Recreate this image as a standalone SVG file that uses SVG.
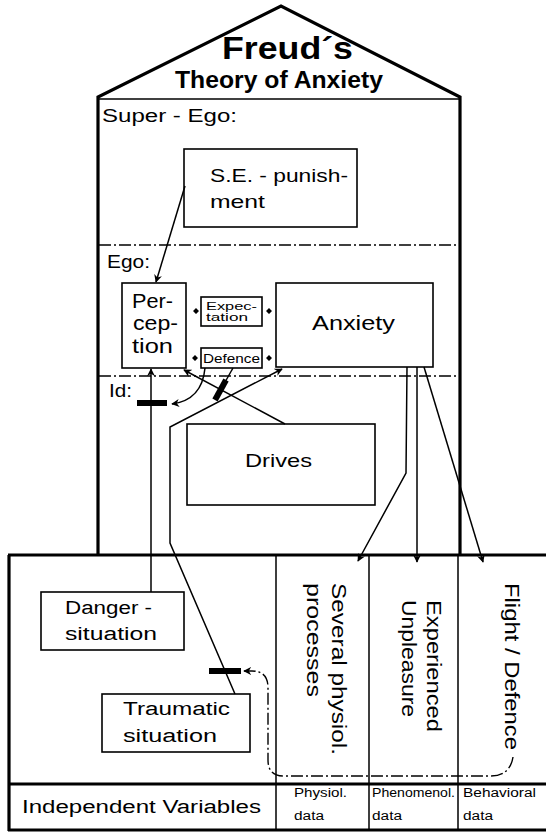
<svg xmlns="http://www.w3.org/2000/svg" width="546" height="836" viewBox="0 0 546 836">
<defs>
<style>
text{font-family:"Liberation Sans",Arial,sans-serif;fill:#000}
.t{font-size:19px}
.s{font-size:12px}
.box{fill:#fff;stroke:#000;stroke-width:1.6}
.thick{fill:none;stroke:#000;stroke-width:3.2}
.thin{fill:none;stroke:#000;stroke-width:1.5}
.dd{fill:none;stroke:#000;stroke-width:1.4;stroke-dasharray:12 3 2 3}
.con{fill:none;stroke:#000;stroke-width:1.5}
.bar{fill:#000}
</style>
<marker id="ah" viewBox="0 0 10 10" refX="9" refY="5" markerWidth="8" markerHeight="8" markerUnits="userSpaceOnUse" orient="auto">
<path d="M0,0 L10,5 L0,10 L3,5 Z" fill="#000"/>
</marker>
</defs>
<rect width="546" height="836" fill="#fff"/>

<g id="house">
<path class="thick" d="M98,555 L98,97 L281,6 L460,97 L460,555"/>
<line class="thin" x1="98" y1="99" x2="460" y2="99" stroke-width="2"/>
<line class="dd" x1="99" y1="245" x2="459" y2="245"/>
<line class="dd" x1="99" y1="376" x2="459" y2="376"/>
<text x="222" y="59" font-size="31" font-weight="bold" textLength="131" lengthAdjust="spacingAndGlyphs">Freud´s</text>
<text x="175" y="88" font-size="24" font-weight="bold" textLength="208" lengthAdjust="spacingAndGlyphs">Theory of Anxiety</text>
<text x="102" y="122" font-size="18" textLength="135" lengthAdjust="spacingAndGlyphs">Super - Ego:</text>
<text x="107" y="268" font-size="18" textLength="43" lengthAdjust="spacingAndGlyphs">Ego:</text>
<text x="109" y="397" font-size="18" textLength="23" lengthAdjust="spacingAndGlyphs">Id:</text>
</g>

<g id="lower">
<path class="thick" d="M8,555 L546,555 M9,555 L9,831 M8,784 L546,784 M8,830 L546,830"/>
<path class="thin" d="M276,555 L276,830 M369,555 L369,830 M458,555 L458,830"/>
<text x="22" y="813" font-size="18" textLength="239" lengthAdjust="spacingAndGlyphs">Independent Variables</text>
<text class="s" x="294" y="797" textLength="53" lengthAdjust="spacingAndGlyphs">Physiol.</text>
<text class="s" x="294" y="820" textLength="30" lengthAdjust="spacingAndGlyphs">data</text>
<text class="s" x="372" y="797" textLength="83" lengthAdjust="spacingAndGlyphs">Phenomenol.</text>
<text class="s" x="372" y="820" textLength="30" lengthAdjust="spacingAndGlyphs">data</text>
<text class="s" x="463" y="797" textLength="73" lengthAdjust="spacingAndGlyphs">Behavioral</text>
<text class="s" x="463" y="820" textLength="30" lengthAdjust="spacingAndGlyphs">data</text>
</g>

<g id="se-punishment">
<rect class="box" x="184" y="149" width="173" height="78"/>
<text class="t" x="210" y="182" textLength="138" lengthAdjust="spacingAndGlyphs">S.E. - punish-</text>
<text class="t" x="210" y="208" textLength="55" lengthAdjust="spacingAndGlyphs">ment</text>
</g>

<g id="perception">
<rect class="box" x="122" y="283" width="64" height="85"/>
<text x="132" y="308" font-size="20" textLength="41" lengthAdjust="spacingAndGlyphs">Per-</text>
<text x="133" y="330" font-size="20" textLength="45" lengthAdjust="spacingAndGlyphs">cep-</text>
<text x="132" y="353" font-size="20" textLength="41" lengthAdjust="spacingAndGlyphs">tion</text>
</g>

<g id="expectation">
<rect class="box" x="201" y="297" width="61" height="29"/>
<text x="206" y="310" font-size="11.5" textLength="51" lengthAdjust="spacingAndGlyphs">Expec-</text>
<text x="206" y="321" font-size="11.5" textLength="42" lengthAdjust="spacingAndGlyphs">tation</text>
</g>

<g id="defence">
<rect class="box" x="201" y="348" width="61" height="20"/>
<text x="203" y="363" font-size="12.5" textLength="57" lengthAdjust="spacingAndGlyphs">Defence</text>
</g>

<g id="anxiety">
<rect class="box" x="276" y="283" width="157" height="84"/>
<text x="312" y="330" font-size="19.5" textLength="83" lengthAdjust="spacingAndGlyphs">Anxiety</text>
</g>

<g id="drives">
<rect class="box" x="187" y="424" width="188" height="81"/>
<text class="t" x="245" y="467" textLength="67" lengthAdjust="spacingAndGlyphs">Drives</text>
</g>

<g id="danger-situation">
<rect class="box" x="41" y="592" width="143" height="58"/>
<text x="65" y="614" font-size="18" textLength="87" lengthAdjust="spacingAndGlyphs">Danger -</text>
<text x="65" y="640" font-size="18" textLength="92" lengthAdjust="spacingAndGlyphs">situation</text>
</g>

<g id="traumatic-situation">
<rect class="box" x="102" y="694" width="148" height="58"/>
<text x="123" y="715" font-size="18" textLength="107" lengthAdjust="spacingAndGlyphs">Traumatic</text>
<text x="123" y="742" font-size="18" textLength="94" lengthAdjust="spacingAndGlyphs">situation</text>
</g>

<g id="physiol-processes">
<text font-size="20" transform="translate(332,583) rotate(90)" textLength="172" lengthAdjust="spacingAndGlyphs">Several physiol.</text>
<text font-size="20" transform="translate(307,583) rotate(90)" textLength="114" lengthAdjust="spacingAndGlyphs">processes</text>
</g>

<g id="experienced-unpleasure">
<text font-size="20" transform="translate(427,600) rotate(90)" textLength="132" lengthAdjust="spacingAndGlyphs">Experienced</text>
<text font-size="20" transform="translate(402,600) rotate(90)" textLength="117" lengthAdjust="spacingAndGlyphs">Unpleasure</text>
</g>

<g id="flight-defence">
<text font-size="20" transform="translate(505,583) rotate(90)" textLength="167" lengthAdjust="spacingAndGlyphs">Flight / Defence</text>
</g>

<g id="connectors">
<path class="con" d="M185,186 L156,282" marker-end="url(#ah)"/>
<path class="con" d="M151,592 L151,369" marker-end="url(#ah)"/>
<rect class="bar" x="137" y="400" width="30" height="6"/>
<path class="con" d="M205,368 Q202,400 172,404" marker-end="url(#ah)"/>
<path class="con" d="M233,368 L216,398"/>
<line x1="226" y1="380" x2="215" y2="400" stroke="#000" stroke-width="6"/>
<path class="con" d="M285,424 L184,370" marker-end="url(#ah)"/>
<path class="con" d="M235,694 L170,543 L170,427 L282,369" marker-end="url(#ah)"/>
<rect class="bar" x="209" y="668" width="32" height="6"/>
<path class="dd" d="M513,757 Q510,776 490,776 L284,776 Q268,776 268,760 L268,688 Q268,671 252,671 L244,671" marker-end="url(#ah)"/>
<path class="con" d="M407,367 L406,473 L358,561" marker-end="url(#ah)"/>
<path class="con" d="M417,367 L417,562" marker-end="url(#ah)"/>
<path class="con" d="M424,367 L483,562" marker-end="url(#ah)"/>
<path fill="#000" d="M196,308 L199,311 L196,314 L193,311 Z M269,308 L272,311 L269,314 L266,311 Z M195,355 L198,358 L195,361 L192,358 Z M269,355 L272,358 L269,361 L266,358 Z"/>
</g>
</svg>
